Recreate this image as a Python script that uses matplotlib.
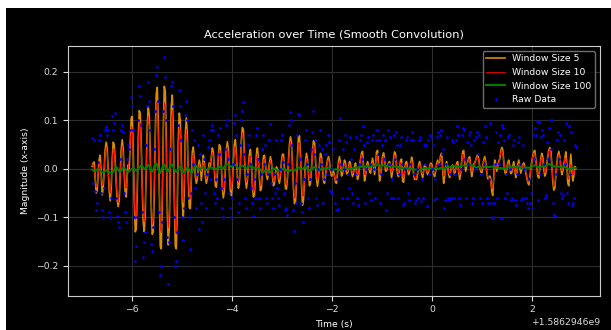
import numpy as np
import matplotlib
matplotlib.use("Agg")
import matplotlib.pyplot as plt
from matplotlib.patches import Rectangle

# ---------------- data ----------------
time_base = 1586294600.0          # epoch seconds (offset shown on axis)
time_start, time_end = -6.79, 2.87  # seconds relative to time_base

# smoothed (window 5) acceleration (~0.02 s step)
accel_w5 = [
 0.005, 0.012, 0.014, -0.020, -0.050, -0.045, -0.010, 0.020, 0.028, -0.010,
 -0.054, -0.040, 0.000, 0.040, 0.055, 0.040, 0.000, -0.045, -0.066, -0.040,
 0.020, 0.055, 0.050, 0.015, -0.030, -0.065, -0.078, -0.065, -0.015, 0.040,
 0.060, 0.040, -0.010, -0.050, -0.058, -0.010, 0.008, 0.000, 0.050, 0.105,
 0.108, 0.040, -0.060, -0.130, -0.125, -0.050, 0.060, 0.120, 0.115, 0.050,
 -0.040, -0.110, -0.130, -0.090, 0.000, 0.090, 0.128, 0.110, 0.030, -0.080,
 -0.135, -0.130, -0.050, 0.070, 0.155, 0.168, 0.100, -0.040, -0.160, -0.165,
 -0.070, 0.080, 0.170, 0.160, 0.060, -0.090, -0.157, -0.120, 0.000, 0.130,
 0.152, 0.080, -0.060, -0.160, -0.165, -0.080, 0.060, 0.115, 0.100, 0.020,
 -0.070, -0.100, -0.040, 0.070, 0.105, 0.070, -0.020, -0.080, -0.082, -0.020,
 0.035, 0.045, 0.020, -0.015, -0.030, -0.020, 0.005, 0.018, 0.005, -0.024,
 0.000, 0.028, 0.015, -0.015, -0.030, -0.020, 0.000, 0.012, 0.005, 0.025,
 0.043, 0.035, 0.000, -0.035, -0.038, -0.010, 0.025, 0.050, 0.045, 0.005,
 -0.040, -0.060, -0.045, 0.000, 0.040, 0.056, 0.040, -0.005, -0.045, -0.055,
 -0.030, 0.015, 0.050, 0.060, 0.030, -0.015, -0.040, -0.030, 0.010, 0.060,
 0.085, 0.080, 0.030, -0.020, -0.040, -0.025, 0.005, 0.030, 0.040, 0.010,
 -0.035, -0.058, -0.055, -0.015, 0.030, 0.043, 0.020, -0.020, -0.045, -0.040,
 -0.005, 0.025, 0.028, 0.010, -0.012, -0.022, -0.010, 0.012, 0.025, 0.015,
 -0.015, -0.035, -0.030, -0.010, 0.004, 0.000, -0.020, -0.030, -0.015, 0.015,
 0.030, 0.030, 0.000, -0.040, -0.042, -0.020, 0.015, 0.050, 0.066, 0.055,
 0.010, -0.040, -0.072, -0.070, -0.030, 0.025, 0.065, 0.068, 0.030, -0.030,
 -0.075, -0.065, -0.025, 0.015, 0.032, 0.020, -0.010, -0.035, -0.030, 0.000,
 0.035, 0.058, 0.055, 0.020, -0.020, -0.036, -0.020, 0.010, 0.032, 0.025,
 0.000, -0.025, -0.030, -0.015, 0.005, 0.018, 0.025, 0.015, -0.005, -0.015,
 -0.010, -0.005, -0.015, -0.028, -0.030, -0.010, 0.015, 0.025, 0.010, -0.015,
 -0.010, 0.005, 0.018, 0.012, -0.008, -0.012, 0.002, 0.015, 0.010, -0.005,
 -0.016, -0.008, 0.005, 0.012, -0.005, -0.022, -0.015, 0.005, 0.020, 0.032,
 0.036, 0.005, -0.025, -0.015, 0.005, 0.015, 0.008, -0.005, -0.009, 0.010,
 0.022, 0.008, -0.012, 0.010, 0.035, 0.038, 0.010, -0.025, -0.015, 0.005,
 0.025, 0.033, 0.020, -0.005, -0.004, 0.005, 0.012, 0.015, 0.000, -0.018,
 -0.005, 0.020, 0.035, 0.030, 0.005, -0.012, -0.016, 0.002, 0.018, 0.020,
 -0.025, -0.028, -0.005, 0.012, 0.015, 0.000, -0.012, -0.005, 0.010, 0.024,
 0.015, -0.010, -0.022, -0.020, -0.022, -0.010, 0.008, 0.015, 0.005, -0.010,
 -0.018, -0.005, 0.008, 0.005, -0.005, -0.012, -0.005, 0.005, 0.012, 0.010,
 0.000, -0.010, -0.016, -0.005, 0.010, 0.018, 0.010, 0.015, 0.028, 0.032,
 0.000, -0.030, -0.015, 0.005, 0.015, 0.005, -0.012, -0.018, -0.005, 0.005,
 0.008, -0.002, -0.012, 0.000, 0.012, 0.015, -0.005, -0.022, -0.010, 0.015,
 0.035, 0.038, 0.015, -0.005, 0.005, 0.015, 0.022, 0.025, 0.005, -0.016,
 -0.005, 0.010, 0.012, 0.018, 0.025, 0.029, 0.020, 0.005, -0.005, -0.009,
 0.005, 0.018, 0.025, 0.015, -0.005, -0.020, -0.022, -0.015, -0.020, -0.045,
 -0.055, -0.020, 0.018, 0.010, -0.005, 0.005, 0.015, 0.020, 0.035, 0.044,
 0.040, 0.015, -0.005, -0.012, 0.000, 0.012, 0.018, 0.005, -0.010, -0.008,
 0.005, 0.015, 0.000, -0.018, -0.010, 0.008, 0.018, 0.005, -0.009, 0.000,
 0.008, 0.012, 0.005, -0.008, -0.018, -0.028, -0.033, -0.020, 0.000, 0.015,
 0.025, 0.035, 0.038, 0.020, 0.000, -0.015, -0.019, 0.000, 0.020, 0.032,
 0.025, 0.000, -0.015, -0.010, 0.010, 0.025, 0.038, 0.044, 0.040, 0.010,
 -0.025, -0.044, -0.040, -0.015, 0.010, 0.028, 0.036, 0.025, 0.005, -0.012,
 -0.005, 0.010, 0.020, 0.035, 0.010, -0.030, -0.035, 0.000, 0.030, 0.000,
 -0.025, -0.015, 0.005, 0.000,
]

# raw accelerometer samples (~0.02 s step), read/estimated from the dots
raw_accel = [
 0.063, -0.030, 0.060, -0.045, -0.085, -0.070, 0.015, 0.060, 0.070, -0.050,
 -0.085, -0.100, -0.040, 0.080, 0.087, 0.070, 0.080, -0.090, -0.100, -0.060,
 0.109, 0.080, 0.095, 0.116, -0.060, -0.098, -0.110, -0.120, 0.020, 0.081,
 0.090, 0.075, -0.050, -0.090, -0.110, 0.020, 0.050, 0.040, 0.080, 0.148,
 0.130, 0.080, -0.100, -0.191, -0.160, -0.100, 0.100, 0.170, 0.150, 0.090,
 -0.090, -0.181, -0.150, -0.130, 0.050, 0.130, 0.180, 0.140, 0.080, -0.155,
 -0.170, -0.120, 0.040, 0.120, 0.194, 0.210, 0.140, -0.090, -0.219, -0.200,
 -0.110, 0.120, 0.230, 0.190, 0.100, -0.140, -0.238, -0.150, 0.040, 0.170,
 0.180, 0.130, -0.100, -0.201, -0.190, -0.130, 0.090, 0.163, 0.130, 0.060,
 -0.100, -0.146, -0.080, 0.110, 0.139, 0.100, -0.060, -0.100, -0.165, -0.050,
 0.080, 0.010, 0.060, -0.040, -0.080, -0.010, 0.050, -0.124, 0.030, -0.070,
 -0.109, 0.070, 0.020, -0.050, -0.080, -0.010, 0.045, 0.060, -0.020, 0.080,
 0.090, 0.080, -0.050, -0.070, -0.020, -0.060, 0.070, 0.030, 0.085, -0.040,
 -0.080, -0.100, -0.020, 0.040, 0.090, 0.100, 0.020, -0.050, -0.080, -0.100,
 -0.060, 0.010, 0.095, 0.110, 0.070, -0.020, -0.090, -0.070, 0.050, 0.100,
 0.120, 0.137, 0.030, -0.060, -0.080, -0.010, 0.050, 0.070, 0.010, -0.040,
 -0.070, -0.098, -0.020, -0.060, 0.070, 0.085, 0.020, -0.060, -0.080, -0.010,
 0.040, 0.070, 0.010, 0.050, -0.060, -0.070, -0.010, 0.060, 0.092, -0.030,
 -0.060, -0.080, -0.010, -0.050, 0.060, -0.040, -0.060, -0.075, 0.000, 0.060,
 0.070, 0.015, -0.050, -0.085, -0.080, -0.095, 0.010, 0.090, 0.117, 0.100,
 0.050, -0.085, -0.128, -0.030, -0.070, 0.070, 0.114, 0.110, 0.020, -0.070,
 -0.090, -0.110, -0.020, 0.060, 0.080, 0.010, -0.060, -0.080, -0.020, 0.040,
 0.075, 0.120, 0.030, 0.060, -0.060, -0.075, 0.000, 0.050, 0.080, 0.010,
 0.040, -0.070, -0.020, 0.030, 0.050, -0.010, 0.070, 0.055, -0.045, 0.000,
 -0.050, 0.040, -0.070, -0.085, -0.020, -0.083, 0.060, 0.105, 0.010, -0.060,
 0.040, 0.000, 0.070, 0.055, -0.060, -0.010, -0.040, 0.065, 0.020, -0.050,
 -0.070, 0.040, -0.010, 0.065, -0.060, -0.075, 0.010, 0.060, 0.070, 0.020,
 0.089, 0.050, -0.070, 0.000, 0.055, 0.065, -0.050, 0.010, -0.065, 0.060,
 0.070, 0.000, -0.060, 0.060, 0.080, 0.030, 0.060, -0.070, -0.010, 0.050,
 0.070, 0.020, 0.060, -0.085, -0.050, 0.080, 0.010, 0.065, -0.060, -0.020,
 -0.060, 0.070, 0.020, 0.075, 0.050, -0.060, -0.010, 0.050, 0.065, 0.010,
 -0.075, -0.070, 0.000, 0.060, 0.065, -0.050, -0.065, 0.010, 0.060, 0.075,
 0.060, -0.010, -0.070, -0.065, 0.000, -0.060, 0.060, 0.065, -0.067, -0.020,
 -0.060, 0.050, 0.010, 0.050, -0.076, 0.060, -0.010, 0.070, 0.065, 0.000,
 0.050, -0.065, -0.020, -0.060, 0.065, 0.075, 0.010, 0.070, 0.080, 0.030,
 0.040, -0.080, -0.065, 0.010, 0.065, -0.060, -0.065, -0.010, -0.060, 0.060,
 0.055, -0.060, -0.010, 0.060, 0.089, 0.070, -0.060, -0.075, 0.000, 0.070,
 0.085, 0.080, 0.020, -0.060, 0.055, 0.010, 0.070, 0.075, 0.050, -0.070,
 -0.060, 0.060, 0.000, 0.065, 0.075, 0.030, 0.070, -0.060, -0.010, -0.070,
 0.055, 0.010, 0.089, 0.065, -0.060, -0.070, -0.020, 0.094, -0.070, -0.102,
 -0.100, -0.070, 0.010, 0.076, -0.060, 0.055, 0.010, 0.070, -0.102, 0.090,
 0.085, 0.060, -0.060, -0.010, -0.050, 0.065, 0.070, 0.000, -0.065, -0.060,
 0.050, 0.060, -0.065, -0.075, -0.010, 0.055, 0.065, 0.010, -0.065, -0.060,
 0.050, 0.000, -0.060, -0.060, -0.070, -0.080, -0.020, -0.070, -0.050, -0.080,
 0.070, 0.020, 0.085, 0.070, 0.098, -0.065, 0.096, -0.010, 0.065, 0.080,
 0.070, 0.010, -0.060, -0.055, 0.055, 0.020, 0.085, 0.100, 0.040, 0.101,
 -0.070, -0.096, -0.097, -0.010, 0.060, 0.075, 0.020, 0.070, -0.050, -0.060,
 -0.055, 0.060, 0.010, 0.094, -0.050, -0.070, 0.089, -0.010, 0.075, -0.074,
 -0.070, -0.060, 0.050, 0.045,
]

window_labels = ["Window Size 5", "Window Size 10", "Window Size 100"]

# ---------------- derived series ----------------
w5 = np.asarray(accel_w5)
t_w = time_base + np.linspace(time_start, time_end, len(w5))
t_raw = time_base + np.linspace(time_start, time_end, len(raw_accel))
# further smoothing by convolution (grid step here is ~3.5x the sensor step)
w10 = np.convolve(w5, np.ones(3) / 3, mode="same")
w100 = np.convolve(w5, np.ones(35) / 35, mode="same")

# ---------------- figure ----------------
plt.style.use("dark_background")
plt.rcParams["font.family"] = ["DejaVu Sans"]
plt.rcParams["font.size"] = 6.7

W, H = 611, 330
fig = plt.figure(figsize=(W / 100, H / 100), dpi=100)
fig.patch.set_facecolor("white")
fig.patches.append(Rectangle((6 / W, 0), 1, 1 - 8 / H, transform=fig.transFigure,
                             facecolor="black", edgecolor="none", zorder=-10))

ax = fig.add_axes([68 / W, 1 - 295.5 / H, (600 - 68) / W, (295.5 - 46) / H])
ax.set_facecolor("black")

ax.plot(t_w, w5, color="orange", alpha=0.85, lw=1.2, label=window_labels[0])
ax.plot(t_w, w10, color="red", lw=0.6, label=window_labels[1])
ax.plot(t_w, w100, color="green", lw=1.4, label=window_labels[2])
ax.plot(t_raw, raw_accel, ".", color="blue", ms=1.9, label="Raw Data")

ax.grid(True, color="#2e2e2e", lw=0.8)
ax.set_axisbelow(True)
for s in ax.spines.values():
    s.set_color("#cccccc")
    s.set_linewidth(0.8)

ax.set_title("Acceleration over Time (Smooth Convolution)", fontsize=8.2)
ax.set_xlabel("Time (s)")
ax.set_ylabel("Magnitude (x-axis)")
ax.tick_params(labelsize=6.7, colors="#dddddd")

leg = ax.legend(loc="upper right", fontsize=6.7, facecolor="black",
                edgecolor="#888888", framealpha=0.8)

fig.savefig("out.png", dpi=100, facecolor=fig.get_facecolor())
